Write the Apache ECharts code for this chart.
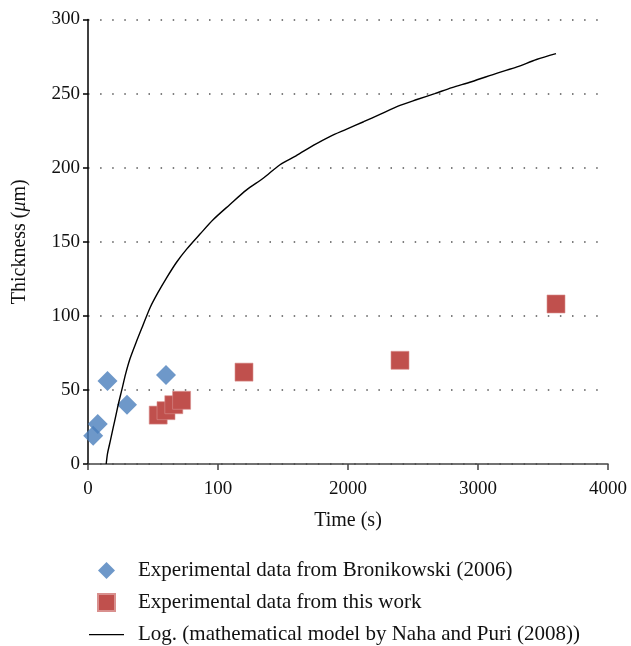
<!DOCTYPE html>
<html>
<head>
<meta charset="utf-8">
<script src="https://cdn.jsdelivr.net/npm/echarts@6/dist/echarts.min.js"></script>
<style>html,body{margin:0;padding:0;background:#fff;}#c{width:631px;height:646px;}</style>
</head>
<body>
<div id="c"></div>
<script>
const xTickLabels = ['0', '100', '2000', '3000', '4000'];
const bronikowski = [[40, 19], [75, 27], [150, 56], [300, 40], [600, 60]];
const thisWork = [[540, 33], [600, 36], [660, 40], [720, 43], [1200, 62], [2400, 70], [3600, 108]];
const logModel = [[140, 0], [150, 7], [165, 13], [180, 19], [195, 25], [215, 33], [235, 41], [260, 50], [290, 61], [323, 71], [370, 82], [420, 93], [480, 106], [540, 116], [600, 125], [680, 136], [759, 145], [860, 155], [964, 165], [1090, 175], [1220, 185], [1350, 193], [1477, 202], [1600, 208], [1733, 215], [1860, 221], [1990, 226], [2120, 231], [2246, 236], [2400, 242], [2530, 246], [2667, 250], [2800, 254], [2950, 258], [3154, 264], [3300, 268], [3450, 273], [3600, 277]];
const names = ['Experimental data from Bronikowski (2006)', 'Experimental data from this work', 'Log. (mathematical model by Naha and Puri (2008))'];

const font = 'Liberation Serif';
const chart = echarts.init(document.getElementById('c'));
chart.setOption({
  backgroundColor: '#fff',
  animation: false,
  grid: { left: 88, right: 23, top: 19.5, bottom: 182, containLabel: false },
  xAxis: {
    type: 'value', min: 0, max: 4000, interval: 1000,
    name: 'Time (s)', nameLocation: 'middle', nameGap: 47,
    nameTextStyle: { fontFamily: font, fontSize: 20, color: '#111' },
    axisLine: { show: true, onZero: false, lineStyle: { color: '#444', width: 1.5 } },
    axisTick: { show: true, inside: false, length: 6, lineStyle: { color: '#444', width: 1.5 } },
    axisLabel: { fontFamily: font, fontSize: 19, color: '#111', margin: 16,
      formatter: function (v) { return xTickLabels[Math.round(v / 1000)]; } },
    splitLine: { show: false }
  },
  yAxis: {
    type: 'value', min: 0, max: 300, interval: 50,
    name: '{a|Thickness (}{b|μ}{a|m)}', nameLocation: 'middle', nameGap: 58,
    nameTextStyle: { fontFamily: font, fontSize: 20, color: '#111',
      rich: { a: { fontFamily: font, fontSize: 20, color: '#111' }, b: { fontFamily: font, fontSize: 20, fontStyle: 'italic', color: '#111' } } },
    axisLine: { show: true, lineStyle: { color: '#000', width: 1.5 } },
    axisTick: { show: true, inside: false, length: 5, lineStyle: { color: '#000', width: 1.5 } },
    axisLabel: { fontFamily: font, fontSize: 19, color: '#111', margin: 8 },
    splitLine: { show: true, lineStyle: { color: '#555', width: 1.5, type: [1.5, 10.6] } }
  },
  legend: {
    orient: 'vertical', left: 88, top: 560, height: 110, padding: 0, itemWidth: 35, itemHeight: 18, itemGap: 11,
    symbolKeepAspect: true,
    textStyle: { fontFamily: font, fontSize: 21, color: '#111', padding: [0, 0, 0, 9] },
    data: [
      { name: names[0], icon: 'path://M0,0 M35,18 M17.5,0.5 L26,9 L17.5,17.5 L9,9 Z' },
      { name: names[1], icon: 'path://M0,0 M35,18 M9,0.5 L26,0.5 L26,17.5 L9,17.5 Z' },
      { name: names[2], icon: 'path://M0,0 M35,18 M0,8.4 L35,8.4 L35,9.7 L0,9.7 Z' }
    ]
  },
  series: [
    { name: names[1], type: 'scatter', data: thisWork, symbol: 'rect', symbolSize: 18,
      itemStyle: { color: '#C0504D', borderColor: '#d9908e', borderWidth: 0.6, opacity: 1 }, z: 2 },
    { name: names[0], type: 'scatter', data: bronikowski, symbol: 'diamond', symbolSize: 20,
      itemStyle: { color: '#4A7EBB' }, z: 3 },
    { name: names[2], type: 'line', data: logModel, smooth: 0.3, showSymbol: false, symbol: 'none',
      color: '#000', lineStyle: { color: '#000', width: 1.4 }, itemStyle: { color: '#000' }, z: 4 }
  ]
});
</script>
</body>
</html>
